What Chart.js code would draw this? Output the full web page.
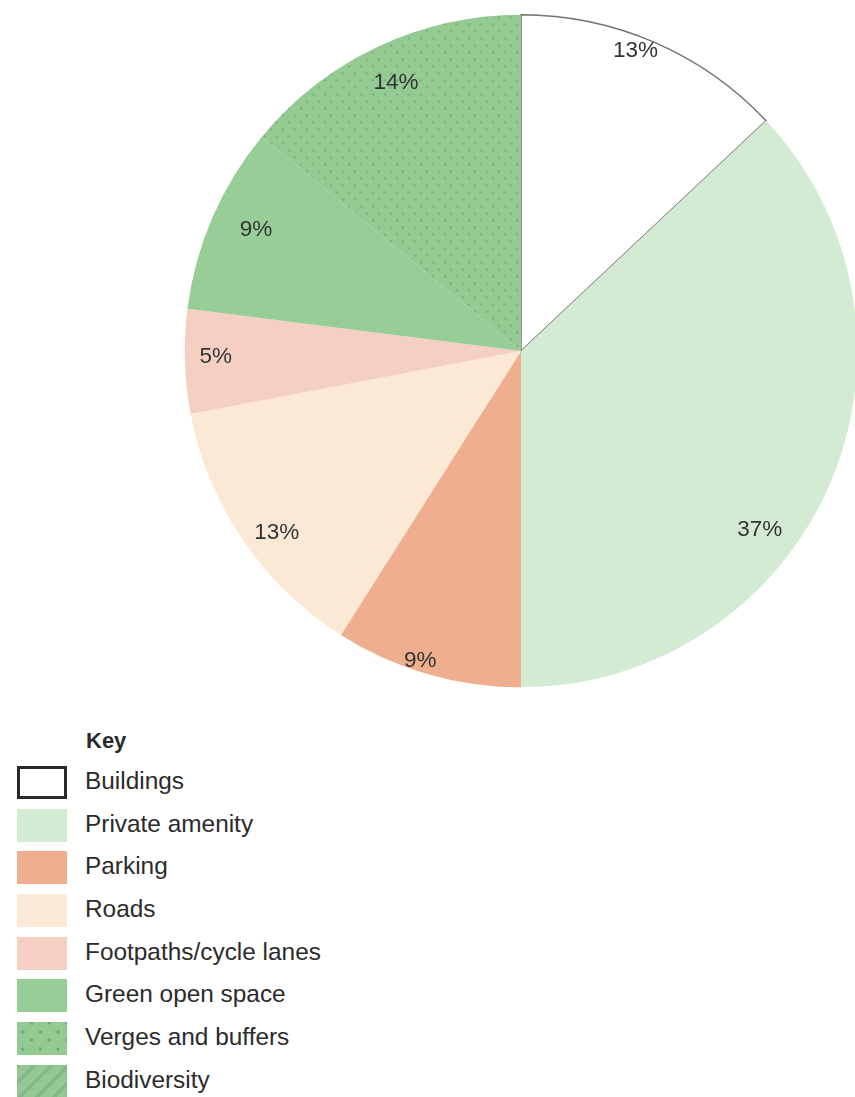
<!DOCTYPE html>
<html lang="en">
<head>
    <meta charset="UTF-8">
    <title>Land use breakdown</title>
    <script src="https://cdn.jsdelivr.net/npm/chart.js"></script>
    <style>
        html, body { margin: 0; padding: 0; overflow: hidden; background: #fff; }
        body { width: 855px; height: 1097px; position: relative; font-family: "Liberation Sans", Arial, sans-serif; color: #2b2b2b; }
        #pie-wrap { position: absolute; left: 184px; top: 14px; width: 674px; height: 674px; }
        #key { position: absolute; left: 17px; top: 726px; }
        #key h3 { margin: 0 0 5px 69px; font-size: 22px; font-weight: bold; line-height: 30px; }
        .row { display: flex; align-items: center; height: 42.7px; }
        .sw { width: 50px; height: 33px; box-sizing: border-box; margin-right: 18px; }
        .row span { font-size: 24.4px; line-height: 33px; margin-top: -4px; }
    </style>
</head>
<body>
    <div id="pie-wrap"><canvas id="pie"></canvas></div>
    <div id="key"><h3>Key</h3></div>

    <script>
        // data
        const categories = ['Buildings', 'Private amenity', 'Parking', 'Roads',
            'Footpaths/cycle lanes', 'Green open space', 'Verges and buffers', 'Biodiversity'];
        const shares = [13, 37, 9, 13, 5, 9, 14, 0];

        // colours / label placement
        const fills = ['#ffffff', '#d3ead3', '#efaf8f', '#fbe8d5', '#f4cfc2', '#97cd96', '#92ca92', '#8fc491'];
        const labelRadius = [0.955, 0.887, 0.97, 0.905, 0.908, 0.866, 0.88, 0.9];
        const labelNudge = [-2.5, 13.4, 1.8, -2.4, 0.7, 1.1, 0.2, 0]; // degrees

        // dotted fill for verges (staggered grid)
        function dotPattern(base, dot, dx, dy) {
            const c = document.createElement('canvas');
            c.width = dx; c.height = dy * 2;
            const g = c.getContext('2d');
            g.fillStyle = base; g.fillRect(0, 0, c.width, c.height);
            g.fillStyle = dot;
            [[dx / 4, dy / 2], [dx * 3 / 4, dy * 1.5]].forEach(p => {
                g.beginPath(); g.arc(p[0], p[1], 1.3, 0, Math.PI * 2); g.fill();
            });
            return g.createPattern(c, 'repeat');
        }
        const ctx = document.getElementById('pie').getContext('2d');
        const bg = fills.slice();
        bg[6] = dotPattern('#93cb93', '#7db57e', 12, 7);

        // percentage labels inside slices
        const sliceLabels = {
            id: 'sliceLabels',
            afterDatasetsDraw(chart) {
                const c = chart.ctx;
                const arcs = chart.getDatasetMeta(0).data;
                c.save();
                c.font = '22.5px "Liberation Sans", Arial, sans-serif';
                c.fillStyle = '#333';
                c.textAlign = 'center';
                c.textBaseline = 'middle';
                arcs.forEach((a, i) => {
                    if (!shares[i]) return;
                    const mid = (a.startAngle + a.endAngle) / 2 + labelNudge[i] * Math.PI / 180;
                    const r = a.outerRadius * labelRadius[i];
                    c.fillText(shares[i] + '%', a.x + Math.cos(mid) * r, a.y + Math.sin(mid) * r);
                });
                c.restore();
            }
        };

        new Chart(ctx, {
            type: 'pie',
            data: {
                labels: categories,
                datasets: [{
                    data: shares,
                    backgroundColor: bg,
                    borderColor: ['#7a7072', 'rgba(0,0,0,0)', 'rgba(0,0,0,0)', 'rgba(0,0,0,0)',
                        'rgba(0,0,0,0)', 'rgba(0,0,0,0)', 'rgba(0,0,0,0)', 'rgba(0,0,0,0)'],
                    borderWidth: [1.5, 0, 0, 0, 0, 0, 0, 0],
                    borderJoinStyle: 'miter',
                    hoverOffset: 0
                }]
            },
            options: {
                responsive: true,
                maintainAspectRatio: false,
                animation: false,
                layout: { padding: 0 },
                plugins: { legend: { display: false }, tooltip: { enabled: false } }
            },
            plugins: [sliceLabels]
        });

        // key
        const swatchCss = [
            'background:#fff;border:3px solid #2a2a2a;',
            'background:' + fills[1] + ';',
            'background:' + fills[2] + ';',
            'background:' + fills[3] + ';',
            'background:' + fills[4] + ';',
            'background:' + fills[5] + ';',
            'background-color:#92ca92;background-image:radial-gradient(circle, #6aa66c 1.4px, transparent 1.7px),radial-gradient(circle, #6aa66c 1.4px, transparent 1.7px);background-size:17.6px 17px;background-position:-3.1px 1.5px, 5.9px -7.5px;',
            'background-color:#93c793;background-image:repeating-linear-gradient(-45deg, #93c793 0 8px, #84b886 8px 12px);'
        ];
        const key = document.getElementById('key');
        categories.forEach((name, i) => {
            const row = document.createElement('div');
            row.className = 'row';
            row.innerHTML = '<div class="sw" style="' + swatchCss[i] + '"></div><span>' + name + '</span>';
            key.appendChild(row);
        });
    </script>
</body>
</html>
